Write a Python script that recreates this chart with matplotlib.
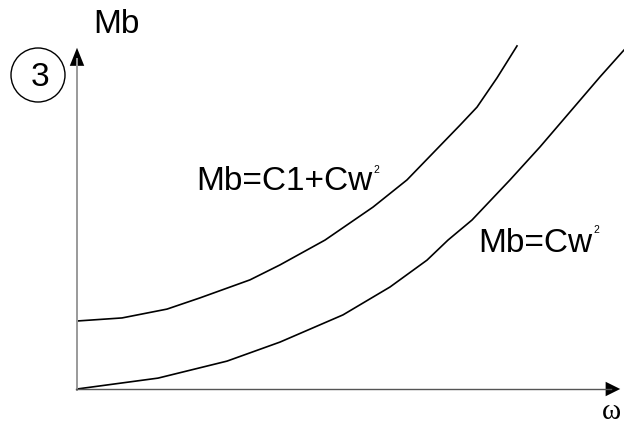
import matplotlib
matplotlib.use("Agg")
import matplotlib.pyplot as plt
from matplotlib.patches import FancyArrowPatch, Ellipse

# ---- data (ω in arbitrary units, Mb in arbitrary units) ----
w_upper = [0.0, 0.9, 1.8, 2.46, 3.46, 4.06, 4.96, 5.92, 6.6, 7.12, 7.66, 8.0, 8.4, 8.8]
mb_upper = [2.0, 2.09, 2.35, 2.68, 3.21, 3.65, 4.38, 5.35, 6.15, 6.94, 7.76, 8.29, 9.15, 10.09]

w_lower = [0.0, 1.62, 3.0, 4.06, 5.32, 6.26, 7.0, 7.42, 7.9, 8.66, 9.26, 9.86, 10.46, 10.94]
mb_lower = [0.0, 0.32, 0.82, 1.38, 2.18, 3.0, 3.79, 4.38, 4.97, 6.15, 7.12, 8.15, 9.18, 9.97]

label_upper = "Mb=C1+Cw"
label_lower = "Mb=Cw"
y_label = "Mb"
x_label = "ω"
panel_no = "3"

W, H = 624, 426
fig = plt.figure(figsize=(W / 100, H / 100), dpi=100)
fig.patch.set_facecolor("white")

# origin of the axes in pixels
ox, oy = 77, 389
x_tip, y_tip = 623, 45
sx, sy = 50.0, 34.0  # px per unit

ax = fig.add_axes([ox / W, (H - oy) / H, (W - ox) / W, (oy - 0) / H])
ax.set_xlim(0, (W - ox) / sx)
ax.set_ylim(0, oy / sy)
ax.axis("off")

ax.plot(w_upper, mb_upper, color="black", lw=1.2, clip_on=False, solid_joinstyle="round")
ax.plot(w_lower, mb_lower, color="black", lw=1.2, clip_on=False, solid_joinstyle="round")

# overlay axes in pixel coordinates for the decorations
ov = fig.add_axes([0, 0, 1, 1])
ov.set_xlim(0, W)
ov.set_ylim(H, 0)
ov.axis("off")
ov.patch.set_alpha(0)

# axis lines
ov.plot([ox, ox], [oy + 1, y_tip + 14], color="#9a9a9a", lw=1.4)
ov.plot([ox - 1, x_tip - 12], [oy, oy], color="#555555", lw=1.0)
# arrow heads
ov.add_patch(FancyArrowPatch((ox, y_tip + 18), (ox, y_tip),
                             arrowstyle="-|>,head_length=13,head_width=5.2",
                             mutation_scale=1, color="black", lw=0))
ov.add_patch(FancyArrowPatch((x_tip - 16, oy), (x_tip, oy),
                             arrowstyle="-|>,head_length=10.5,head_width=5.2",
                             mutation_scale=1, color="black", lw=0))

fs = 24
sans = "Liberation Sans"
ov.text(93, 33, y_label, fontsize=fs, family=sans, ha="left", va="baseline")
ov.text(621, 425, x_label, fontsize=21, family="Liberation Serif", ha="right", va="bottom")

t1 = ov.text(196, 190, label_upper, fontsize=fs, family=sans, ha="left", va="baseline")
t2 = ov.text(478, 252, label_lower, fontsize=fs, family=sans, ha="left", va="baseline")

fig.canvas.draw()
r = fig.canvas.get_renderer()
for t, base in ((t1, 173), (t2, 233)):
    bb = t.get_window_extent(r)
    ov.text(bb.x1 + 1, base, "2", fontsize=7.5, family=sans, ha="left", va="baseline")

# circled panel number
ov.add_patch(Ellipse((38, 75), 54, 54, fill=False, edgecolor="black", lw=1.0))
ov.text(40, 86, panel_no, fontsize=fs, family=sans, ha="center", va="baseline")

fig.savefig("out.png", dpi=100, facecolor="white")
